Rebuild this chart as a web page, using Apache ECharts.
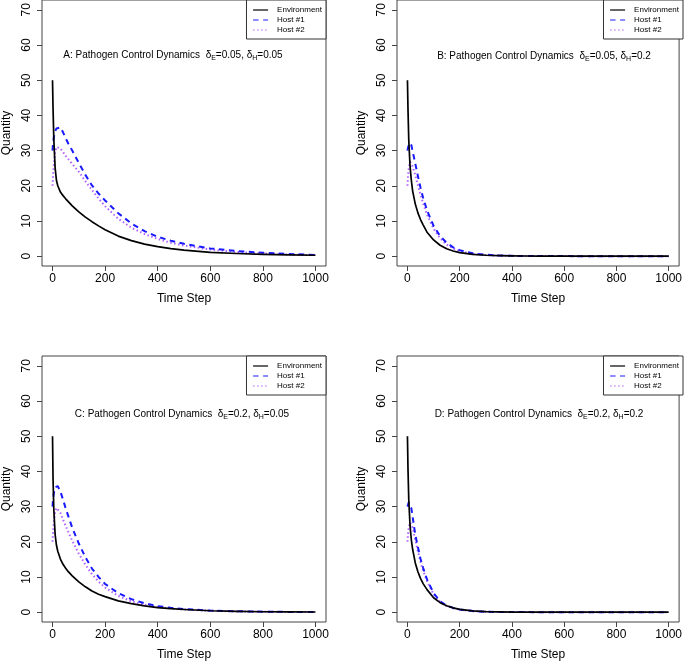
<!DOCTYPE html>
<html>
<head>
<meta charset="utf-8">
<script src="https://cdn.jsdelivr.net/npm/echarts@6/dist/echarts.min.js"></script>
<style>
html,body{margin:0;padding:0;background:#fff;}
#chart{width:685px;height:662px;}
</style>
</head>
<body>
<div id="chart"></div>
<script>
// Time grid
const T = [0,2,5,10,15,20,30,40,50,60,75,100,125,150,175,200,250,300,350,400,450,500,600,700,800,900,1000];

// Panel A
const envA   = [50,42,33,25,21.5,20,18.2,17.2,16.3,15.5,14.3,12.6,11.1,9.8,8.6,7.5,5.7,4.4,3.4,2.7,2.15,1.7,1.1,0.75,0.5,0.35,0.25];
const host1A = [30,32,33.8,35.5,36.3,36.7,36.6,35.2,33.5,32,30,26.5,23.1,20.1,17.8,15.8,12.2,9.3,7.1,5.5,4.4,3.5,2.2,1.45,0.95,0.6,0.35];
const host2A = [20,23,26,29.5,31,31.2,30.6,29.6,28.5,27.6,26.2,24,21.3,18.8,16.4,14.2,10.6,8.1,6.3,4.9,3.8,3,1.9,1.2,0.75,0.45,0.3];
// Panel B
const envB   = [50,42,33,25.5,21.5,18.5,14.8,12.3,10.4,8.9,6.8,4.6,3.1,2.1,1.45,1.0,0.5,0.25,0.13,0.07,0.04,0.02,0.01,0,0,0,0];
const host1B = [30,30.8,31.5,32.2,31.5,29.8,26.3,22.8,19.5,16.6,13,8.6,5.7,3.8,2.5,1.7,0.8,0.4,0.2,0.1,0.05,0.03,0.01,0,0,0,0];
const host2B = [20,22.5,25,26.8,26.5,25.5,23,20.2,17.5,15,11.8,7.8,5.1,3.3,2.2,1.4,0.65,0.3,0.15,0.08,0.04,0.02,0.01,0,0,0,0];
// Panel C
const envC   = [50,38,29,22,19,17.3,15.1,13.6,12.5,11.5,10.3,8.6,7.2,6.0,5.1,4.4,3.2,2.4,1.8,1.3,1.0,0.75,0.4,0.22,0.12,0.07,0.04];
const host1C = [30,32,33.8,35.5,36,35.8,34.3,32,29.5,27.3,24,19.5,15.6,12.4,10,8,5.4,3.7,2.5,1.7,1.25,0.9,0.45,0.25,0.13,0.07,0.04];
const host2C = [20,22.5,25.5,28.5,29.6,29.5,28.2,26.3,24.5,22.8,20.3,16.6,13.5,10.8,8.7,7,4.6,3.1,2.1,1.45,1.05,0.75,0.4,0.2,0.1,0.06,0.03];
// Panel D
const envD   = [50,41,32,24.5,20.5,17.8,14,11.5,9.6,8.1,6.4,4.1,2.7,1.8,1.2,0.8,0.35,0.15,0.07,0.03,0.01,0.01,0,0,0,0,0];
const host1D = [30,30.5,31.2,31,29.5,27,22,18.5,15.2,12.6,9.3,5.4,3.1,1.9,1.2,0.75,0.3,0.12,0.05,0.02,0.01,0,0,0,0,0,0];
const host2D = [20,22,24,25.5,25,24,20.5,17.3,14.3,11.8,8.8,5.1,2.9,1.75,1.1,0.7,0.28,0.11,0.05,0.02,0.01,0,0,0,0,0,0];

const xTicks = [0,200,400,600,800,1000];
const yTicks = [0,10,20,30,40,50,60,70];
const seriesNames = ['Environment','Host #1','Host #2'];
const panelLetters = ['A','B','C','D'];
const deltaE = ['0.05','0.05','0.2','0.2'];
const deltaH = ['0.05','0.2','0.05','0.2'];
const panelData = [[envA,host1A,host2A],[envB,host1B,host2B],[envC,host1C,host2C],[envD,host1D,host2D]];

const FONT = '"Liberation Sans", Arial, Helvetica, sans-serif';
const grids = [
  {left:40, top:0},
  {left:397, top:0},
  {left:40, top:356},
  {left:397, top:356}
];
const titlePos = [[173,55],[544,56],[182,414],[539,414]];
const legendPos = [{right:359, top:0},{right:2, top:0},{right:359, top:356},{right:2, top:356}];

const styles = [
  {color:'#000000', width:1.7, type:'solid'},
  {color:'#1a1aff', width:2, type:[5.5,4.5]},
  {color:'#b060ff', width:2, type:[1.5,2.5]}
];

const option = {
  animation:false,
  backgroundColor:'#ffffff',
  textStyle:{fontFamily:FONT},
  grid: grids.map(g => ({left:g.left, top:g.top, width:286, height:266, show:true,
      borderColor:'#444', borderWidth:1, backgroundColor:'transparent', containLabel:false})),
  xAxis: grids.map((g,i) => ({
    type:'value', gridIndex:i, min:-40, max:1040,
    name:'Time Step', nameLocation:'middle', nameGap:27,
    nameTextStyle:{fontSize:12, color:'#000', fontFamily:FONT},
    axisLine:{show:false, onZero:false},
    axisTick:{show:true, length:5, customValues:xTicks, lineStyle:{color:'#444'}},
    axisLabel:{customValues:xTicks, fontSize:12, color:'#000', margin:7, fontFamily:FONT,
      formatter: v => String(v)},
    splitLine:{show:false}
  })),
  yAxis: grids.map((g,i) => ({
    type:'value', gridIndex:i, min:-2.8, max:72.8,
    name:'Quantity', nameLocation:'middle', nameGap:29,
    nameTextStyle:{fontSize:12, color:'#000', fontFamily:FONT},
    axisLine:{show:false, onZero:false},
    axisTick:{show:true, length:5, customValues:yTicks, lineStyle:{color:'#444'}},
    axisLabel:{customValues:yTicks, rotate:90, fontSize:12, color:'#000', margin:9, fontFamily:FONT,
      formatter: v => String(v)},
    splitLine:{show:false}
  })),
  legend: legendPos.map((p,i) => ({
    right:p.right, top:p.top, orient:'vertical',
    data:seriesNames, selectedMode:false,
    itemWidth:15, itemHeight:8, itemGap:2,
    padding:[6,4,5,6],
    borderColor:'#333', borderWidth:1, backgroundColor:'#fff',
    itemStyle:{opacity:0},
    lineStyle:{width:1.2},
    textStyle:{fontSize:8, color:'#000', fontFamily:FONT, padding:[0,0,0,4]}
  })),
  graphic: titlePos.map((p,i) => ({
    type:'text', x:p[0], y:p[1], z:10,
    style:{
      text: panelLetters[i] + ': Pathogen Control Dynamics  \u03b4{sub|E}=' + deltaE[i] + ', \u03b4{sub|H}=' + deltaH[i],
      fontSize:10, fontFamily:FONT, fill:'#000', lineHeight:14,
      align:'center', verticalAlign:'middle',
      rich:{sub:{fontSize:7, fontFamily:FONT, fill:'#000', verticalAlign:'bottom', lineHeight:14}}
    }
  })),
  series: []
};

panelData.forEach((arrs, i) => {
  arrs.forEach((vals, k) => {
    option.series.push({
      type:'line', name:seriesNames[k], xAxisIndex:i, yAxisIndex:i,
      data: T.map((t, j) => [t, vals[j]]),
      showSymbol:false, symbol:'none', smooth:false,
      lineStyle:{color:styles[k].color, width:styles[k].width, type:styles[k].type, join:'round'},
      itemStyle:{color:styles[k].color},
      emphasis:{disabled:true}, z: 3 - k
    });
  });
});

const chart = echarts.init(document.getElementById('chart'), null, {renderer:'canvas'});
chart.setOption(option);
</script>
</body>
</html>
